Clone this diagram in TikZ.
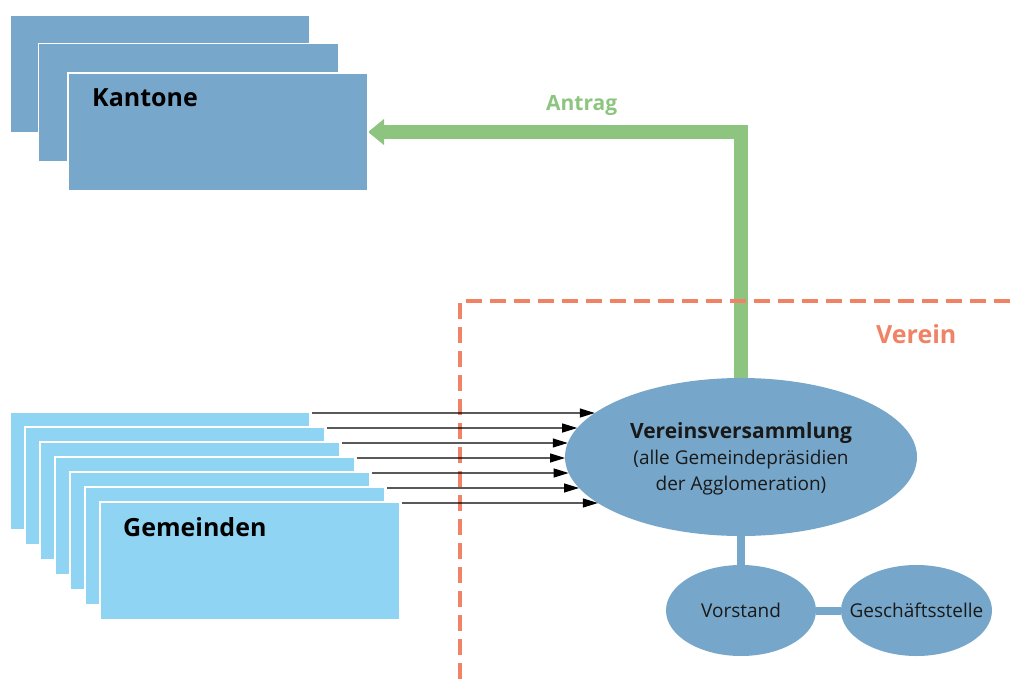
\documentclass[tikz,border=0pt]{standalone}
\usepackage{fontspec}
\setmainfont{Open Sans}
\usetikzlibrary{arrows.meta,shapes.geometric,intersections,backgrounds}
\definecolor{kblue}{HTML}{77A8CB}
\definecolor{gblue}{HTML}{8FD4F2}
\definecolor{ablue}{HTML}{76A7CA}
\definecolor{agreen}{HTML}{8DC580}
\definecolor{vorange}{HTML}{F08366}
\begin{document}
\begin{tikzpicture}[x=1pt,y=-1pt,
  card/.style={rectangle, draw=white, line width=1.2pt, minimum width=300pt,
    minimum height=118pt, anchor=north west, inner sep=0pt, outer sep=0pt},
  kcard/.style={card, fill=kblue},
  gcard/.style={card, fill=gblue},
  organ/.style={ellipse, fill=ablue, inner sep=0pt, outer sep=0pt},
  title/.style={font=\bfseries\fontsize{25}{30}\selectfont, anchor=base west, inner sep=0pt},
  body/.style={font=\fontsize{19}{26}\selectfont, text=black!90, inner sep=0pt},
  feed/.style={line width=1.1pt, -{Triangle[length=15pt,width=9pt]}},
  link/.style={ablue, line width=8pt},
]
\useasboundingbox (0,0) rectangle (1014,679);
\clip (0,0) rectangle (1014,679);

% Kantone: three stacked cards
\node[kcard] (k1) at (10,15) {};
\node[kcard] (k2) at (38.5,43.5) {};
\node[kcard] (k3) at (68,73) {};
\node[title] (ktxt) at (92,107) {Kantone};

% Gemeinden: seven stacked cards
\foreach \i in {1,...,7}{
  \node[gcard] (g\i) at ({10+15*(\i-1)},{412+15*(\i-1)}) {};
}
\node[title] (gtxt) at (123,536) {Gemeinden};

% association bodies
\node[organ, minimum width=352pt, minimum height=158pt, name path=vvpath,
  label={[body, align=center, yshift=-1.5pt]center:{\textbf{\fontsize{21}{26}\selectfont Vereinsversammlung}\\(alle Gemeindepräsidien\\der Agglomeration)}}]
  (vv) at (741,457) {};
\node[organ, minimum width=150pt, minimum height=91pt,
  label={[body]center:Vorstand}] (vo) at (741,610.5) {};
\node[organ, minimum width=151pt, minimum height=91pt,
  label={[body]center:Geschäftsstelle}] (gs) at (916.5,610.5) {};

\draw[link] (vv.south) -- (vo.north);
\draw[link] (vo.east) -- (gs.west);

% labels
\node[title, font=\bfseries\fontsize{21}{26}\selectfont, text=agreen] (antrag) at (546,111) {Antrag};
\node[title, text=vorange] (verein) at (876,343) {Verein};

% every municipality feeds the assembly
\foreach \i in {1,...,7}{
  \path[name path=ray\i] ([xshift=2pt,yshift=-1pt]g\i.north east) -- ++(400,0);
  \draw[feed, name intersections={of=vvpath and ray\i, by=hit\i}]
    ([xshift=2pt,yshift=-1pt]g\i.north east) -- (hit\i);
}

\begin{pgfonlayer}{background}
  % motion to the cantons
  \draw[agreen, line width=14pt, line join=miter,
    -{Triangle[width=25pt,length=16pt]}] (vv.north) |- (k3.east);
  % association boundary
  \draw[vorange, line width=4pt, dash pattern=on 16pt off 8pt, dash phase=13pt]
    (460,690) -- (460,301) -- (1030,301);
\end{pgfonlayer}
\end{tikzpicture}
\end{document}
